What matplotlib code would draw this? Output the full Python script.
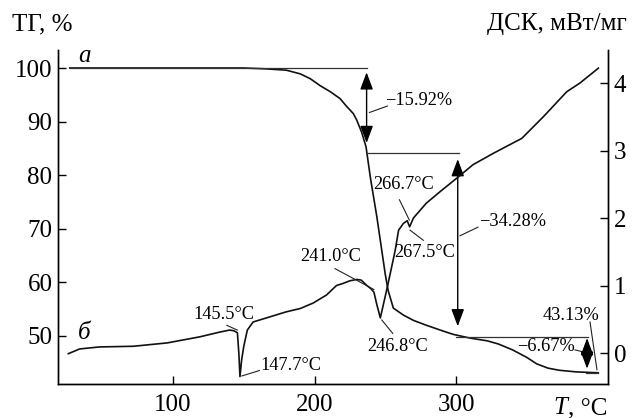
import matplotlib
matplotlib.use("Agg")
import matplotlib.pyplot as plt

plt.rcParams['font.family'] = ['Liberation Serif', 'DejaVu Serif']

# ---- data ----
tg_T = [27, 60, 100, 150, 165, 180, 190, 197, 204, 211, 218, 222.8, 227.4, 229.8, 233.3,
        236.4, 239.5, 242, 244, 247.5, 250, 252, 255.7, 262.8, 270, 279, 290, 298,
        310, 322, 330, 340, 350, 357, 365, 373, 385, 400.5]
tg_val = [100, 100, 100, 100, 99.85, 99.6, 98.9, 98.0, 96.7, 95.6, 94.3, 92.8, 91.5, 90.3, 88.0,
          85.3, 79.5, 75.5, 72.3, 66.0, 61.5, 58.5, 55.2, 53.9, 52.9, 52.0, 51.0, 50.3,
          49.6, 49.1, 48.5, 47.4, 46.0, 44.8, 44.0, 43.6, 43.3, 43.13]

dsc_T = [26, 34, 48, 72, 96, 119, 133, 140, 143, 145.5, 146.5, 147.3, 148.5, 150,
         152.5, 156.6, 166, 180, 190, 199, 208.5, 215.5, 220, 225, 229.8, 233, 237,
         240, 242, 244, 246.5, 249, 252, 257, 259.4, 262.8, 265.5, 267.2, 269.9, 279,
         288.7, 300.5, 312, 326.5, 346.5, 361.7, 378.2, 387.6, 400.6]
dsc_val = [-0.01, 0.06, 0.09, 0.10, 0.15, 0.24, 0.31, 0.34, 0.33, 0.30, 0.0, -0.35, -0.1, 0.10,
           0.34, 0.46, 0.52, 0.61, 0.66, 0.74, 0.86, 1.0, 1.03, 1.07, 1.09, 1.08, 1.0,
           0.95, 0.9, 0.72, 0.52, 0.75, 1.03, 1.52, 1.82, 1.92, 1.96, 1.87, 2.0, 2.22,
           2.39, 2.59, 2.79, 2.96, 3.18, 3.50, 3.87, 4.0, 4.22]

x_ticks = [100, 200, 300]
tg_ticks = [50, 60, 70, 80, 90, 100]
dsc_ticks = [0, 1, 2, 3, 4]

steps = [100, 84.08, 49.80, 43.13]
step_labels = ["−15.92%", "−34.28%", "−6.67%", "43.13%"]
peak_labels = ["145.5°C", "147.7°C", "241.0°C", "246.8°C", "266.7°C", "267.5°C"]

# ---- figure ----
W, H = 633, 418
fig = plt.figure(figsize=(W / 100, H / 100), dpi=100)
ax = fig.add_axes([58 / W, (H - 384) / H, 550 / W, 334 / H])
ax2 = ax.twinx()

ax.set_xlim(18.7, 407.4)
ax.set_ylim(41.04, 103.36)
ax2.set_ylim(-0.459, 4.489)

for a in (ax, ax2):
    a.spines['top'].set_visible(False)
    for s in a.spines.values():
        s.set_linewidth(1.0)

ax.set_xticks(x_ticks)
ax.set_yticks(tg_ticks)
ax2.set_yticks(dsc_ticks)
ax.tick_params(axis='both', direction='in', length=6, width=1, labelsize=18, pad=4)
ax.tick_params(axis='x', pad=7)
ax2.tick_params(axis='y', direction='in', length=6, width=1, labelsize=18, pad=4)

lc = '#111111'
ax.plot(tg_T, tg_val, color=lc, lw=1.2, solid_joinstyle='round')
ax2.plot(dsc_T, dsc_val, color=lc, lw=1.2, solid_joinstyle='round')

# step lines
hl = dict(color='#333333', lw=0.9)
ax.plot([27, 236.8], [steps[0], steps[0]], **hl)
ax.plot([236.8, 301.8], [steps[1], steps[1]], **hl)
ax.plot([300, 393.5], [steps[2], steps[2]], **hl)
ax.plot([392, 400.6], [steps[3], steps[3]], **hl)

ap = dict(arrowstyle='<|-|>,head_length=0.75,head_width=0.28', color='black', lw=1.0,
          mutation_scale=14, shrinkA=0, shrinkB=0)
ax.annotate('', xy=(236.8, 99.2), xytext=(236.8, 86.0), arrowprops=ap)
ax.annotate('', xy=(301.2, 83.0), xytext=(301.2, 51.8), arrowprops=ap)
ax.annotate('', xy=(392.6, 49.6), xytext=(392.6, 43.9), arrowprops=ap)

fs = 13.2
lk = dict(color='#222222', lw=0.8)
# TG labels
ax.plot([238.8, 251.5], [91.7, 92.9], **lk)
ax.text(249.8, 94.0, step_labels[0], fontsize=fs, ha='left', va='center')
ax.plot([302.8, 315.5], [68.7, 70.3], **lk)
ax.text(316.0, 71.3, step_labels[1], fontsize=fs, ha='left', va='center')
ax.plot([384.1, 392.0], [47.4, 46.9], **lk)
ax.text(343.0, 47.95, step_labels[2], fontsize=fs, ha='left', va='center')
ax.plot([394.7, 399.6], [52.6, 43.7], **lk)
ax.text(361.5, 53.9, step_labels[3], fontsize=fs, ha='left', va='center')

# DSC labels
ax2.plot([138, 145.4], [0.41, 0.34], **lk)
ax2.text(114.5, 0.57, peak_labels[0], fontsize=fs, ha='left', va='center')
ax2.plot([148.6, 161], [-0.34, -0.26], **lk)
ax2.text(161.5, -0.18, peak_labels[1], fontsize=fs, ha='left', va='center')
ax2.plot([214.5, 242], [1.25, 0.94], **lk)
ax2.text(189.8, 1.43, peak_labels[2], fontsize=fs, ha='left', va='center')
ax2.plot([247.5, 255.3], [0.49, 0.29], **lk)
ax2.text(237.5, 0.09, peak_labels[3], fontsize=fs, ha='left', va='center')
ax2.plot([260, 267], [2.27, 1.97], **lk)
ax2.text(241.8, 2.49, peak_labels[4], fontsize=fs, ha='left', va='center')
ax2.plot([267.5, 276.9], [1.82, 1.67], **lk)
ax2.text(256.4, 1.49, peak_labels[5], fontsize=fs, ha='left', va='center')

# curve letters
ax.text(32.9, 102.2, 'а', fontsize=18, style='italic', ha='left', va='center')
ax.text(32.9, 50.56, 'б', fontsize=18, style='italic', ha='left', va='center')

# axis titles
fig.text(12 / W, 1 - 24 / H, 'ТГ, %', fontsize=18, ha='left', va='center')
fig.text(627 / W, 1 - 24 / H, 'ДСК, мВт/мг', fontsize=18, ha='right', va='center')
fig.text(607 / W, 1 - 408 / H, ', °C', fontsize=18, ha='right', va='center')
fig.text(567 / W, 1 - 408 / H, 'T', fontsize=18, style='italic', ha='right', va='center')

fig.savefig('out.png', dpi=100)
